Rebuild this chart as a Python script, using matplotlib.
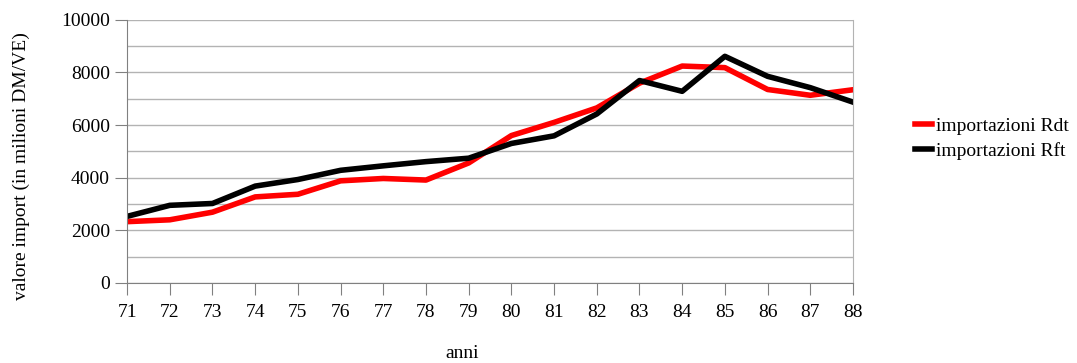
import matplotlib.pyplot as plt
from matplotlib.ticker import MultipleLocator

# dati
anni = [71, 72, 73, 74, 75, 76, 77, 78, 79, 80, 81, 82, 83, 84, 85, 86, 87, 88]
rdt = [2330, 2400, 2690, 3270, 3370, 3880, 3970, 3910, 4560, 5600, 6100, 6650, 7590, 8240, 8180, 7350, 7130, 7340]
rft = [2530, 2950, 3020, 3680, 3930, 4280, 4450, 4610, 4740, 5300, 5590, 6420, 7690, 7280, 8610, 7850, 7420, 6870]

plt.rcParams['font.family'] = ['Liberation Serif', 'DejaVu Serif']

fig = plt.figure(figsize=(10.77, 3.63), dpi=100)
ax = fig.add_axes([0.118, 0.2204, 0.674, 0.7253])

ax.plot(anni, rdt, color='#ff0000', lw=4, label='importazioni Rdt')
ax.plot(anni, rft, color='#000000', lw=4, label='importazioni Rft')

ax.set_xlim(71, 88)
ax.set_ylim(0, 10000)
ax.set_xticks(anni)
ax.yaxis.set_major_locator(MultipleLocator(2000))
ax.yaxis.set_minor_locator(MultipleLocator(1000))
ax.grid(True, which='both', axis='y', color='#b3b3b3', lw=1)
ax.set_axisbelow(True)

ax.spines['top'].set_visible(False)
ax.spines['right'].set_color('#b3b3b3')
ax.spines['left'].set_color('#808080')
ax.spines['bottom'].set_color('#808080')

ax.tick_params(axis='x', direction='out', length=8.4, color='#808080', labelsize=14, pad=7)
ax.tick_params(axis='y', which='major', direction='out', length=8.4, color='#808080', labelsize=14, pad=4)
ax.tick_params(axis='y', which='minor', length=0)

# etichette assi
fig.text(21 / 1077, 0.543, 'valore import (in milioni DM/VE)', rotation=90,
         ha='center', va='center', fontsize=14)
fig.text(0.4287, 0.0275, 'anni', ha='center', va='center', fontsize=14)

ax.legend(loc='center left', bbox_to_anchor=(1.085, 0.548), frameon=False, fontsize=14,
          handlelength=0.9, handletextpad=0.2, labelspacing=0.35,
          borderpad=0, borderaxespad=0)

plt.savefig('out.png', dpi=100)
